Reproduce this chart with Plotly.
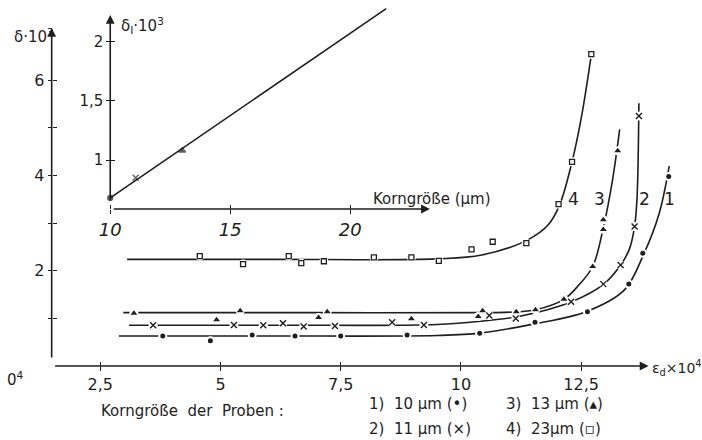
import plotly.graph_objects as go

# ---------------- data ----------------
# fitted curves (main chart): epsilon_d * 1e4  vs  delta * 1e3
c1_x = [2.89, 6.0, 9.5, 10.4, 11.5, 12.6, 13.4, 13.8, 14.12, 14.33]
c1_y = [0.63, 0.63, 0.64, 0.69, 0.88, 1.14, 1.6, 2.35, 3.2, 4.2]
c2_x = [3.1, 7.0, 9.5, 10.5, 11.2, 12.3, 12.97, 13.32, 13.5, 13.61, 13.66, 13.70]
c2_y = [0.855, 0.855, 0.87, 0.95, 1.04, 1.35, 1.72, 2.12, 2.45, 2.93, 3.5, 5.52]
c3_x = [2.98, 7.0, 10.5, 11.2, 11.55, 12.14, 12.45, 12.74, 12.97, 13.15, 13.30]
c3_y = [1.12, 1.12, 1.12, 1.14, 1.18, 1.40, 1.70, 2.09, 2.95, 3.9, 4.97]
c4_x = [3.06, 6.0, 9.5, 10.43, 11.39, 11.81, 12.05, 12.31, 12.5, 12.72]
c4_y = [2.24, 2.24, 2.25, 2.33, 2.65, 2.96, 3.38, 4.29, 5.2, 6.6]

# measured points
p1_x = [3.8, 4.79, 5.66, 6.55, 7.5, 8.88, 10.39, 11.54, 12.63, 13.49, 13.78, 14.32]
p1_y = [0.63, 0.53, 0.65, 0.63, 0.63, 0.65, 0.69, 0.92, 1.14, 1.72, 2.37, 3.98]
p2_x = [3.6, 5.28, 5.89, 6.3, 6.73, 7.38, 8.57, 9.23, 10.59, 11.14, 12.29, 12.96, 13.32, 13.61, 13.70]
p2_y = [0.855, 0.86, 0.855, 0.9, 0.83, 0.84, 0.92, 0.86, 1.06, 1.0, 1.35, 1.72, 2.12, 2.93, 5.25]
p3_x = [3.2, 4.92, 5.41, 7.04, 7.22, 8.97, 10.36, 10.45, 11.15, 11.55, 12.14, 12.74, 12.96, 12.96, 13.26]
p3_y = [1.11, 0.97, 1.16, 1.02, 1.14, 0.99, 1.04, 1.16, 1.14, 1.18, 1.40, 2.09, 2.87, 3.07, 4.52]
p4_x = [4.57, 5.47, 6.42, 6.68, 7.15, 8.19, 8.97, 9.54, 10.22, 10.66, 11.36, 12.03, 12.31, 12.71]
p4_y = [2.31, 2.14, 2.31, 2.16, 2.2, 2.28, 2.28, 2.21, 2.45, 2.61, 2.58, 3.40, 4.29, 6.55]

# inset: grain size (µm) vs delta_I * 1e3
inset_line_x = [10, 21.5]
inset_line_y = [0.68, 2.28]
inset_pts_x = [10, 11.06, 13.0]
inset_pts_y = [0.68, 0.85, 1.08]

x_ticks = [2.5, 5, 7.5, 10, 12.5]
x_ticktext = ["2,5", "5", "7,5", "10", "12,5"]
y_ticks = [1, 2, 3, 4, 5, 6]
y_ticktext = [" ", "2", " ", "4", " ", "6"]
inset_x_ticks = [10, 15, 20]
inset_x_ticktext = ["10", "15", "20"]
inset_y_ticks = [1, 1.5, 2]
inset_y_ticktext = ["1", "1,5", "2"]

curve_labels = ["4", "3", "2", "1"]

# ---------------- styling ----------------
W, H = 702, 440
INK = "#1e1e1e"
FONT = "DejaVu Sans"
LW = 1.6

# main axes geometry (pixels)
MX0_PX, MY0_PX = 47, 366
X_RANGE = [0.520, 15.012]
Y_RANGE = [-1.555, 7.689]

fig = go.Figure()

def line(x, y, xa="x", ya="y"):
    fig.add_trace(go.Scatter(x=x, y=y, mode="lines", xaxis=xa, yaxis=ya,
                             line=dict(color=INK, width=LW, shape="spline", smoothing=1.0),
                             hoverinfo="skip", showlegend=False))

for cx, cy in [(c1_x, c1_y), (c2_x, c2_y), (c3_x, c3_y), (c4_x, c4_y)]:
    line(cx, cy)

# white halos to give the hand-drawn "gap around marker" look
halo_x = p1_x + p2_x + p3_x + p4_x
halo_y = p1_y + p2_y + p3_y + p4_y
fig.add_trace(go.Scatter(x=halo_x, y=halo_y, mode="markers",
                         marker=dict(symbol="circle", size=9, color="white"),
                         hoverinfo="skip", showlegend=False))

fig.add_trace(go.Scatter(x=p1_x, y=p1_y, mode="markers",
                         marker=dict(symbol="circle", size=5, color=INK), showlegend=False))
fig.add_trace(go.Scatter(x=p2_x, y=p2_y, mode="markers",
                         marker=dict(symbol="x-thin", size=6, line=dict(color=INK, width=1.4)),
                         showlegend=False))
fig.add_trace(go.Scatter(x=p3_x, y=p3_y, mode="markers",
                         marker=dict(symbol="triangle-up", size=6, color=INK), showlegend=False))
fig.add_trace(go.Scatter(x=p4_x, y=p4_y, mode="markers",
                         marker=dict(symbol="square-open", size=5, line=dict(color=INK, width=1.3),
                                     color=INK), showlegend=False))

# inset
fig.add_trace(go.Scatter(x=inset_line_x, y=inset_line_y, mode="lines", xaxis="x2", yaxis="y2",
                         line=dict(color=INK, width=LW), hoverinfo="skip", showlegend=False))
fig.add_trace(go.Scatter(x=inset_pts_x, y=inset_pts_y, mode="markers", xaxis="x2", yaxis="y2",
                         marker=dict(symbol=["circle", "x-thin", "triangle-up"], size=[5, 6, 6],
                                     color=INK, line=dict(color=INK, width=1.3)),
                         showlegend=False))

# dummy traces for overlay (crossing-tick) axes
fig.add_trace(go.Scatter(x=[None], y=[None], xaxis="x3", yaxis="y3", showlegend=False))
fig.add_trace(go.Scatter(x=[None], y=[None], xaxis="x4", yaxis="y4", showlegend=False))

def px_x(p):
    return p / W

def px_y(p):
    return 1 - p / H

tickfont = dict(family=FONT, size=16, color=INK)
common = dict(showgrid=False, zeroline=False, showline=False, ticks="outside",
              ticklen=4, tickwidth=1.4, tickcolor=INK)

# inset geometry
IX_RANGE = [9.752, 23.819]
IY_RANGE = [0.5353, 2.3525]
IX_POS = px_x(106)
IY_POS = px_y(209)

fig.update_layout(
    width=W, height=H, autosize=False,
    margin=dict(l=0, r=0, t=0, b=0),
    paper_bgcolor="white", plot_bgcolor="rgba(0,0,0,0)",
    font=dict(family=FONT, color=INK),
    xaxis=dict(domain=[0, 1], range=X_RANGE, anchor="free", position=px_y(MY0_PX),
               tickvals=x_ticks, ticktext=x_ticktext, tickfont=tickfont, **common),
    yaxis=dict(domain=[0, 1], range=Y_RANGE, anchor="free", position=px_x(MX0_PX),
               tickvals=y_ticks, ticktext=y_ticktext, tickfont=tickfont, **common),
    xaxis3=dict(overlaying="x", range=X_RANGE, anchor="free", position=px_y(MY0_PX),
                tickvals=x_ticks, showticklabels=False,
                **{**common, "ticks": "inside"}),
    yaxis3=dict(overlaying="y", range=Y_RANGE, anchor="free", position=px_x(MX0_PX),
                tickvals=y_ticks, showticklabels=False,
                **{**common, "ticks": "inside"}),
    xaxis2=dict(domain=[px_x(100), px_x(440)], range=IX_RANGE, anchor="free", position=IY_POS,
                tickvals=inset_x_ticks, ticktext=inset_x_ticktext,
                tickfont=dict(family=FONT, size=18, color=INK, style="italic"), **common),
    yaxis2=dict(domain=[px_y(215), 1], range=IY_RANGE, anchor="free", position=IX_POS,
                tickvals=inset_y_ticks, ticktext=inset_y_ticktext,
                tickfont=dict(family=FONT, size=15, color=INK), **common),
    xaxis4=dict(overlaying="x2", range=IX_RANGE, anchor="free", position=IY_POS,
                tickvals=inset_x_ticks, showticklabels=False,
                **{**common, "ticks": "inside"}),
    yaxis4=dict(overlaying="y2", range=IY_RANGE, anchor="free", position=IX_POS,
                tickvals=inset_y_ticks, showticklabels=False,
                **{**common, "ticks": "inside"}),
)

# axis lines with arrowheads (data coordinates)
x0_main = X_RANGE[0] + (X_RANGE[1] - X_RANGE[0]) * MX0_PX / W
arrows = [
    # (xref, yref, tail x, tail y, head x, head y)
    ("x", "y", x0_main, 0, x0_main, 7.10),
    ("x", "y", x0_main, 0, 13.90, 0),
    ("x2", "y2", 10, 0.586, 10, 2.226),
    ("x2", "y2", 10, 0.586, 23.32, 0.586),
]
for xr, yr, tx, ty, hx, hy in arrows:
    fig.add_annotation(xref=xr, yref=yr, axref=xr, ayref=yr, x=hx, y=hy, ax=tx, ay=ty,
                       text=" ", showarrow=True, arrowhead=2, arrowsize=1.1,
                       arrowwidth=1.6, arrowcolor=INK, standoff=0, startstandoff=0)

def text(s, x, y, size=15, anchor="center", style="normal"):
    fig.add_annotation(xref="paper", yref="paper", x=px_x(x), y=px_y(y), text=s,
                       showarrow=False, xanchor=anchor, yanchor="middle",
                       font=dict(family=FONT, size=size, color=INK, style=style))

text("δ·10<sup>3</sup>", 29, 36, size=15)
text("δ<sub>I</sub>·10<sup>3</sup>", 138, 26, size=15)
text("Korngröße (µm)", 430, 199, size=15)
for lbl, xp in zip(curve_labels, [573, 599, 644, 669]):
    text(lbl, xp, 199, size=17)
text("ε<sub>d</sub>×10<sup>4</sup>", 650, 368, size=14, anchor="left")
text("Korngröße  der  Proben :", 189, 411, size=15)
text("1)  10 µm (•)", 365, 404, size=15, anchor="left")
text("3)  13 µm (▴)", 503, 404, size=15, anchor="left")
text("2)  11 µm (×)", 365, 429, size=15, anchor="left")
text("4)  23µm (▫)", 503, 429, size=15, anchor="left")
text("0<sup>4</sup>", 0, 379, size=15, anchor="left")

fig.write_html("out.html", config={"displayModeBar": False},
               post_script="document.body.style.margin='0px';")
